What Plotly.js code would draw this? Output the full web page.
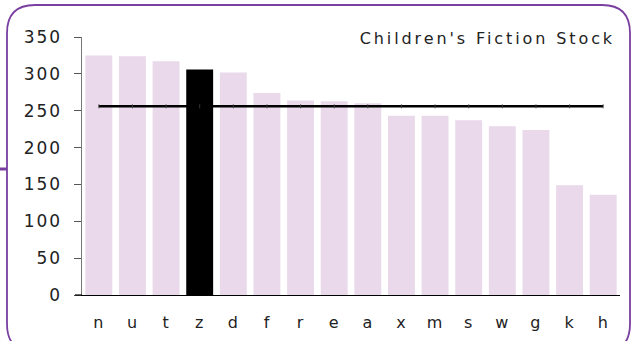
<!DOCTYPE html>
<html>
<head>
<meta charset="utf-8">
<script src="https://cdn.plot.ly/plotly-3.0.1.min.js"></script>
<style>
html,body{margin:0;padding:0;background:#fff;}
#chart{width:632px;height:341px;}
#chart .gtitle{letter-spacing:2.9px;}
#chart .ytick text{letter-spacing:2px;}
#chart .xtick text{letter-spacing:1px;}
</style>
</head>
<body>
<div id="chart"></div>
<script>
var categories = ["n","u","t","z","d","f","r","e","a","x","m","s","w","g","k","h"];
var stock = [325, 324, 317, 306, 302, 274, 264, 263, 260, 243, 243, 237, 229, 224, 149, 136];
var average = [256,256,256,256,256,256,256,256,256,256,256,256,256,256,256,256];
var highlight = "z";
var yTicks = [0,50,100,150,200,250,300,350];

var W = 632, H = 341;
var M = {l: 82, r: 12, t: 37, b: 46};
var pw = W - M.l - M.r, ph = H - M.t - M.b;
function px(x){ return (x - M.l) / pw; }
function py(y){ return (H - M.b - y) / ph; }
function P(x, y){ return px(x).toFixed(5) + "," + py(y).toFixed(5); }

// rounded border path (pixel geometry converted to paper coords)
var L = 7, T = 5, R = 630, B = 352, rad = 28;
var border = "M" + P(L, T + rad) +
  " Q" + P(L, T) + " " + P(L + rad, T) +
  " L" + P(R - rad, T) +
  " Q" + P(R, T) + " " + P(R, T + rad) +
  " L" + P(R, B - rad) +
  " Q" + P(R, B) + " " + P(R - rad, B) +
  " L" + P(L + rad, B) +
  " Q" + P(L, B) + " " + P(L, B - rad) + " Z";

var colors = categories.map(function(c){ return c === highlight ? "#000000" : "#ead9eb"; });

var font = "DejaVu Sans, Verdana, sans-serif";

var data = [
  {
    type: "bar",
    x: categories,
    y: stock,
    marker: {color: colors, line: {width: 0}},
    hoverinfo: "x+y"
  },
  {
    type: "scatter",
    mode: "lines+markers",
    x: categories,
    y: average,
    line: {color: "#000000", width: 2.5},
    marker: {symbol: "line-ns", size: 3, color: "#444", line: {color: "#444", width: 0.8}}
  }
];

var layout = {
  width: W, height: H,
  margin: M,
  paper_bgcolor: "#ffffff",
  plot_bgcolor: "#ffffff",
  showlegend: false,
  bargap: 0.2,
  font: {family: font, size: 16, color: "#222"},
  title: {
    text: "Children's Fiction Stock",
    xref: "paper", yref: "paper",
    x: px(615), xanchor: "right",
    y: py(44), yanchor: "bottom",
    font: {family: font, size: 16, color: "#222"}
  },
  xaxis: {
    type: "category",
    range: [-0.5, 15.5],
    showline: true, linecolor: "#000", linewidth: 1.2,
    ticks: "", showgrid: false, zeroline: false,
    tickfont: {family: font, size: 16, color: "#222"},
    ticklabelstandoff: 13
  },
  yaxis: {
    range: [0, 350],
    tickvals: yTicks,
    showline: true, linecolor: "#777", linewidth: 1.5,
    ticks: "outside", ticklen: 7, tickcolor: "#555", tickwidth: 1,
    showgrid: false, zeroline: false,
    tickfont: {family: font, size: 17, color: "#222"},
    ticklabelstandoff: 8
  },
  shapes: [
    {type: "path", xref: "paper", yref: "paper", path: border,
     line: {color: "#7a3fa1", width: 1.8}, fillcolor: "rgba(0,0,0,0)", layer: "above"},
    {type: "line", xref: "paper", yref: "paper",
     x0: px(0), x1: px(L), y0: py(169), y1: py(169),
     line: {color: "#7a3fa1", width: 3}},
    {type: "line", xref: "paper", yref: "paper",
     x0: px(75), x1: 0, y0: 0, y1: 0,
     line: {color: "#000", width: 1.2}}
  ]
};

Plotly.newPlot("chart", data, layout, {displayModeBar: false, staticPlot: true});
</script>
</body>
</html>
